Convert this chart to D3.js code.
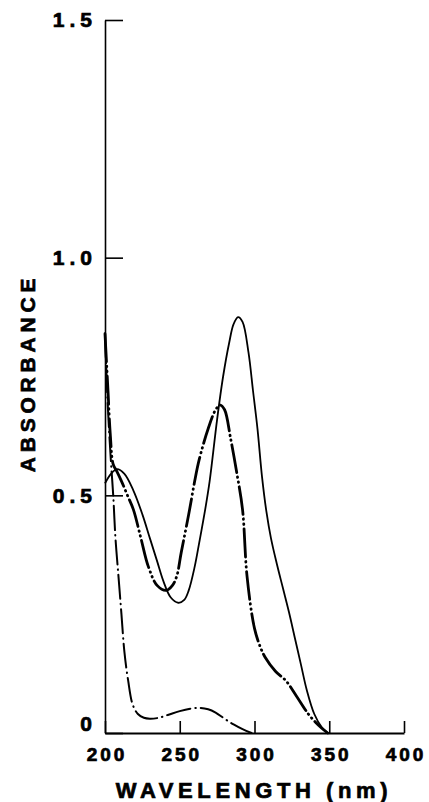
<!DOCTYPE html>
<html>
<head>
<meta charset="utf-8">
<script src="https://cdn.jsdelivr.net/npm/d3@7"></script>
<style>
  body { margin: 0; background: #fff; }
  text { font-family: "Liberation Sans", Arial, sans-serif; font-weight: bold; fill: #000; stroke: #000; stroke-width: 0.7px; }
</style>
</head>
<body>
<div id="chart"></div>
<script>
// Data (wavelength in nm, absorbance)
var solidWl = [200, 204, 208, 213, 219, 225, 230, 235, 239, 244, 249, 253, 256, 260, 263, 267, 270, 275, 279, 283, 286, 289, 292, 296, 299, 302, 305, 308, 311, 315, 319, 323, 327, 331, 335, 340, 345, 349];
var solidAbs = [0.525, 0.545, 0.555, 0.545, 0.51, 0.46, 0.41, 0.36, 0.32, 0.285, 0.274, 0.28, 0.30, 0.35, 0.40, 0.47, 0.53, 0.66, 0.75, 0.82, 0.86, 0.875, 0.865, 0.80, 0.72, 0.64, 0.54, 0.465, 0.41, 0.355, 0.305, 0.255, 0.20, 0.145, 0.09, 0.04, 0.012, 0];

var dddWl = [200, 202, 203.5, 205.5, 208, 211, 215, 219, 224, 229, 235, 241, 245, 248, 251, 256, 260, 263, 269, 274, 277, 280, 284, 288, 292, 295, 300, 304, 307, 314, 321, 328, 336, 341, 345, 349];
var dddAbs = [0.84, 0.72, 0.63, 0.565, 0.55, 0.53, 0.50, 0.47, 0.41, 0.35, 0.31, 0.30, 0.31, 0.33, 0.38, 0.46, 0.53, 0.575, 0.64, 0.68, 0.69, 0.68, 0.62, 0.55, 0.47, 0.33, 0.22, 0.18, 0.16, 0.13, 0.11, 0.078, 0.04, 0.022, 0.01, 0];

var ddWl = [200, 202, 204, 205.5, 207, 209, 211, 213, 215.5, 218.5, 222, 226, 230, 236, 242, 250, 257, 263, 269, 274, 280, 286, 292, 298];
var ddAbs = [0.84, 0.68, 0.57, 0.50, 0.41, 0.33, 0.25, 0.17, 0.11, 0.06, 0.04, 0.032, 0.03, 0.032, 0.038, 0.046, 0.051, 0.053, 0.05, 0.043, 0.03, 0.018, 0.008, 0];

var xTicks = [200, 250, 300, 350, 400];
var yTicks = [0, 0.5, 1.0, 1.5];

var width = 429, height = 802;

var svg = d3.select("#chart")
  .append("svg")
  .attr("width", width)
  .attr("height", height);

var x = d3.scaleLinear().domain([200, 400]).range([105, 404]);
var y = d3.scaleLinear().domain([0, 1.5]).range([733, 20]);

// X axis, ticks pointing up
var xAxis = svg.append("g")
  .attr("transform", "translate(0," + y(0) + ")")
  .call(d3.axisBottom(x).tickValues(xTicks).tickSize(-12).tickSizeOuter(0).tickPadding(15).tickFormat(d3.format("d")));
xAxis.select(".domain").attr("stroke-width", 2);
xAxis.selectAll(".tick line").attr("stroke-width", 1.6);
xAxis.selectAll(".tick text")
  .style("font-size", "19px")
  .style("letter-spacing", "3px")
  .attr("dx", "1.5px");

// Y axis, ticks pointing right
var yAxis = svg.append("g")
  .attr("transform", "translate(" + x(200) + ",0)")
  .call(d3.axisLeft(y).tickValues(yTicks).tickSize(-18).tickSizeOuter(0).tickPadding(8)
    .tickFormat(function (d) { return d === 0 ? "0" : d3.format(".1f")(d); }));
yAxis.select(".domain").attr("stroke-width", 1.6);
yAxis.selectAll(".tick line").attr("stroke-width", 1.6);
yAxis.selectAll(".tick text")
  .style("font-size", "21px")
  .style("letter-spacing", "5px")
  .attr("dy", function (d) { return d === 0 ? "-0.1em" : "0.32em"; });

// Axis titles
svg.append("text")
  .attr("x", 254)
  .attr("y", 798)
  .attr("text-anchor", "middle")
  .style("font-size", "22px")
  .style("letter-spacing", "4.6px")
  .text("WAVELENGTH (nm)");

svg.append("text")
  .attr("transform", "translate(35,373) rotate(-90)")
  .attr("text-anchor", "middle")
  .style("font-size", "21px")
  .style("letter-spacing", "4.8px")
  .text("ABSORBANCE");

// Curves
function makeLine() {
  return d3.line()
    .x(function (d) { return x(d[0]); })
    .y(function (d) { return y(d[1]); })
    .curve(d3.curveCatmullRom.alpha(0.5));
}

function pairs(a, b) { return a.map(function (v, i) { return [v, b[i]]; }); }

svg.append("path")
  .datum(pairs(ddWl, ddAbs))
  .attr("d", makeLine())
  .attr("fill", "none")
  .attr("stroke", "#000")
  .attr("stroke-width", 2)
  .attr("stroke-linecap", "round")
  .attr("stroke-dasharray", "24,5,0.5,5");

svg.append("path")
  .datum(pairs(dddWl, dddAbs))
  .attr("d", makeLine())
  .attr("fill", "none")
  .attr("stroke", "#000")
  .attr("stroke-width", 2.8)
  .attr("stroke-linecap", "round")
  .attr("stroke-dasharray", "28,4.5,0.5,4.5,0.5,4.5");

svg.append("path")
  .datum(pairs(solidWl, solidAbs))
  .attr("d", makeLine())
  .attr("fill", "none")
  .attr("stroke", "#000")
  .attr("stroke-width", 1.8);
</script>
</body>
</html>
